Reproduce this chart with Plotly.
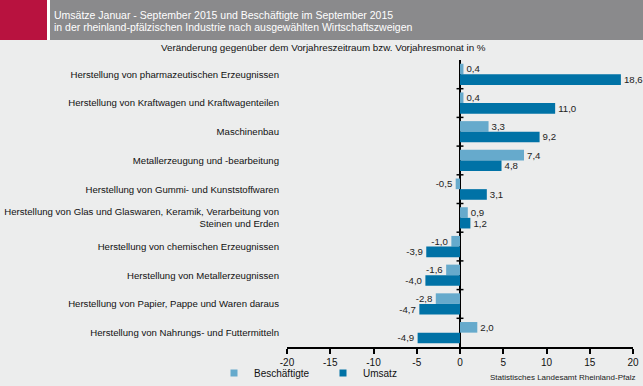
import plotly.graph_objects as go

categories = [
    "Herstellung von pharmazeutischen Erzeugnissen",
    "Herstellung von Kraftwagen und Kraftwagenteilen",
    "Maschinenbau",
    "Metallerzeugung und -bearbeitung",
    "Herstellung von Gummi- und Kunststoffwaren",
    "Herstellung von Glas und Glaswaren, Keramik, Verarbeitung von<br>Steinen und Erden",
    "Herstellung von chemischen Erzeugnissen",
    "Herstellung von Metallerzeugnissen",
    "Herstellung von Papier, Pappe und Waren daraus",
    "Herstellung von Nahrungs- und Futtermitteln",
]
beschaeftigte = [0.4, 0.4, 3.3, 7.4, -0.5, 0.9, -1.0, -1.6, -2.8, 2.0]
umsatz = [18.6, 11.0, 9.2, 4.8, 3.1, 1.2, -3.9, -4.0, -4.7, -4.9]
x_ticks = [-20, -15, -10, -5, 0, 5, 10, 15, 20]
x_ticktext = [str(v) for v in x_ticks]

FONT = "Liberation Sans, Arial, sans-serif"
BG = "#ECEDED"
LIGHT = "#66AACC"
DARK = "#0072A6"

fig = go.Figure()
fig.add_trace(go.Bar(
    y=categories, x=beschaeftigte, orientation="h", name="Beschäftigte",
    marker=dict(color=LIGHT, line=dict(width=0)), showlegend=False,
    texttemplate="%{x:.1f}", textposition="outside", cliponaxis=False,
    textfont=dict(size=10, color="#222222", family=FONT),
))
fig.add_trace(go.Bar(
    y=categories, x=umsatz, orientation="h", name="Umsatz",
    marker=dict(color=DARK, line=dict(width=0)), showlegend=False,
    texttemplate="%{x:.1f}", textposition="outside", cliponaxis=False,
    textfont=dict(size=10, color="#222222", family=FONT),
))
# legend entries with small square swatches
for nm, col in [("Beschäftigte", LIGHT), ("Umsatz", DARK)]:
    fig.add_trace(go.Scatter(x=[None], y=[None], mode="markers", name=nm,
                             marker=dict(symbol="square", size=7, color=col, line=dict(width=0)),
                             showlegend=True))

# pixel helpers for decoration (plot area: x 287..633, y 60..347)
def px_x(p):
    return (p - 287) / 346
def px_y(p):
    return (347 - p) / 287

shapes = [
    dict(type="rect", xref="paper", yref="paper", x0=px_x(0), x1=px_x(47), y0=px_y(40), y1=px_y(0),
         line=dict(width=0), fillcolor="#B8123F", layer="below"),
    dict(type="rect", xref="paper", yref="paper", x0=px_x(47), x1=px_x(50), y0=px_y(40), y1=px_y(0),
         line=dict(width=0), fillcolor="#FFFFFF", layer="below"),
    dict(type="rect", xref="paper", yref="paper", x0=px_x(50), x1=px_x(643), y0=px_y(40), y1=px_y(0),
         line=dict(width=0), fillcolor="#8A8A8C", layer="below"),
]
# small tick marks on the zero line at category boundaries
for i in range(len(categories) - 1):
    shapes.append(dict(type="line", xref="x", yref="y", x0=-0.4, x1=0.4, y0=i + 0.5, y1=i + 0.5,
                       line=dict(color="#000000", width=1.5)))

annotations = [
    dict(text="Umsätze Januar - September 2015 und Beschäftigte im September 2015",
         xref="paper", yref="paper", x=px_x(52), y=px_y(15), xanchor="left", yanchor="middle",
         align="left", showarrow=False, font=dict(size=10.5, color="#FFFFFF", family=FONT)),
    dict(text="in der rheinland-pfälzischen Industrie nach ausgewählten Wirtschaftszweigen",
         xref="paper", yref="paper", x=px_x(52), y=px_y(27), xanchor="left", yanchor="middle",
         align="left", showarrow=False, font=dict(size=10.5, color="#FFFFFF", family=FONT)),
    dict(text="Veränderung gegenüber dem Vorjahreszeitraum bzw. Vorjahresmonat in %",
         xref="paper", yref="paper", x=px_x(323), y=px_y(48), xanchor="center", yanchor="middle",
         showarrow=False, font=dict(size=9.8, color="#111111", family=FONT)),
    dict(text="Statistisches Landesamt Rheinland-Pfalz",
         xref="paper", yref="paper", x=px_x(637), y=px_y(377), xanchor="right", yanchor="middle",
         showarrow=False, font=dict(size=8, color="#222222", family=FONT)),
]

fig.update_layout(
    width=643, height=386,
    margin=dict(l=287, r=10, t=60, b=39, pad=0, autoexpand=False),
    paper_bgcolor=BG, plot_bgcolor=BG,
    separators=",.",
    barmode="group", bargap=0.26, bargroupgap=0.0,
    font=dict(family=FONT, size=10, color="#111111"),
    shapes=shapes, annotations=annotations,
    showlegend=True,
    legend=dict(orientation="h", x=px_x(214), y=px_y(373), xanchor="left", yanchor="middle",
                bgcolor="rgba(0,0,0,0)", font=dict(size=10, color="#111111", family=FONT),
                entrywidth=64, entrywidthmode="pixels", itemwidth=30, traceorder="normal"),
    xaxis=dict(range=[-20, 20], tickvals=x_ticks, ticktext=x_ticktext, showgrid=False, zeroline=True,
               zerolinecolor="#000000", zerolinewidth=1.5,
               showline=True, linecolor="#000000", linewidth=1.5,
               ticks="outside", ticklen=5, tickcolor="#000000", tickwidth=1.5,
               tickfont=dict(size=10, color="#111111", family=FONT), fixedrange=True,
               automargin=False),
    yaxis=dict(autorange="reversed", showgrid=False, zeroline=False, showline=False,
               ticks="", ticklabelstandoff=7, automargin=False, fixedrange=True,
               tickfont=dict(size=9.6, color="#111111", family=FONT)),
)

fig.write_html("out.html", config={"displayModeBar": False},
               post_script="document.body.style.margin='0';")
